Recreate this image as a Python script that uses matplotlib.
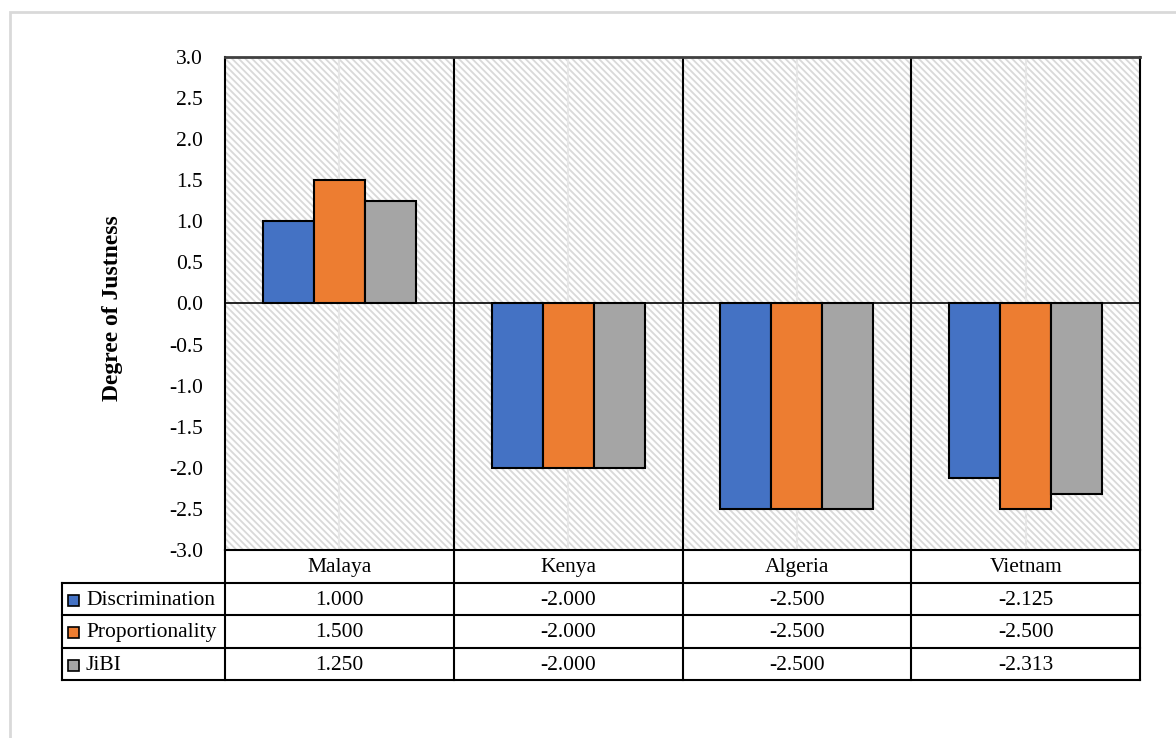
import numpy as np
import matplotlib
matplotlib.use('Agg')
import matplotlib.pyplot as plt
from matplotlib.patches import Rectangle
from matplotlib.transforms import blended_transform_factory

# data
countries = ['Malaya', 'Kenya', 'Algeria', 'Vietnam']
series_names = ['Discrimination', 'Proportionality', 'JiBI']
discrimination = [1.000, -2.000, -2.500, -2.125]
proportionality = [1.500, -2.000, -2.500, -2.500]
jibi = [1.250, -2.000, -2.500, -2.313]
series_values = [discrimination, proportionality, jibi]
colors = ['#4472C4', '#ED7D31', '#A5A5A5']
y_ticks = np.arange(-3.0, 3.01, 0.5)

plt.rcParams['font.family'] = ['Liberation Serif', 'DejaVu Serif']
plt.rcParams['hatch.color'] = '#d9d9d9'
plt.rcParams['hatch.linewidth'] = 1.3

W, H = 1176, 738
fig = plt.figure(figsize=(W / 100, H / 100), dpi=100)

# light outer frame of the chart area
fig.patches.append(Rectangle((10 / W, 1 - 760 / H), 1200 / W, 748 / H,
                             transform=fig.transFigure, fill=False,
                             edgecolor='#d9d9d9', linewidth=2))

ax = fig.add_axes([225 / W, 1 - 550 / H, 915 / W, 493 / H])
ax.set_xlim(-0.5, len(countries) - 0.5)
ax.set_ylim(-3, 3)
ax.patch.set_alpha(0)

# hatched plot area
ax.add_patch(Rectangle((0, 0), 1, 1, transform=ax.transAxes, facecolor='white',
                       edgecolor='#d9d9d9', linewidth=0, hatch='\\' * 5, zorder=0))

x = np.arange(len(countries))
bar_w = 0.223
for i, (vals, col) in enumerate(zip(series_values, colors)):
    ax.bar(x + (i - 1) * bar_w, vals, width=bar_w, color=col,
           edgecolor='black', linewidth=1.5, zorder=3)

# light gridlines at category centres, black boundaries between categories
for xc in x:
    ax.axvline(xc, color='#e6e6e6', linewidth=1.5, zorder=1)
for xb in x[:-1] + 0.5:
    ax.axvline(xb, color='black', linewidth=1.5, zorder=2)
ax.axhline(0, color='black', linewidth=1.2, zorder=4)

for s in ax.spines.values():
    s.set_color('black')
    s.set_linewidth(1.5)
ax.spines['top'].set_color('#404040')
ax.spines['top'].set_linewidth(2)

ax.set_yticks(y_ticks)
ax.set_yticklabels([f'{v:.1f}' for v in y_ticks], fontsize=15.5)
ax.tick_params(axis='y', length=0, pad=16)
for lbl in ax.get_yticklabels():
    lbl.set_y(lbl.get_position()[1])
ax.set_xticks([])
ax.set_ylabel('Degree of Justness', fontsize=17, fontweight='bold')
ax.yaxis.set_label_coords(-0.1115, 0.49)

# data table below the plot
tr = blended_transform_factory(ax.transData, ax.transAxes)
rh = 32.5 / 493
cat_px = 915 / len(countries)
x_left = -0.5 - 163 / cat_px
x_right = len(countries) - 0.5
n_rows = len(series_names) + 1

def hline(y, x0):
    ax.plot([x0, x_right], [y, y], color='black', lw=1.5, transform=tr,
            clip_on=False, solid_capstyle='projecting')

def vline(xv, y0, y1):
    ax.plot([xv, xv], [y0, y1], color='black', lw=1.5, transform=tr,
            clip_on=False, solid_capstyle='projecting')

hline(-rh, x_left)
for k in range(2, n_rows + 1):
    hline(-k * rh, x_left)
for xb in np.arange(-0.5, len(countries), 1.0):
    vline(xb, 0, -n_rows * rh)
vline(x_left, -rh, -n_rows * rh)

for xc, name in zip(x, countries):
    ax.text(xc, -0.55 * rh, name, transform=tr, ha='center', va='center',
            fontsize=15.5)

key_x = -0.5 + (68 - 225) / cat_px
key_w = 11 / cat_px
key_h = 11 / 493
for i, (name, vals, col) in enumerate(zip(series_names, series_values, colors)):
    yc = -(i + 1.55) * rh
    ax.add_patch(Rectangle((key_x, yc - key_h / 2), key_w, key_h, transform=tr,
                           facecolor=col, edgecolor='black', linewidth=1.2,
                           clip_on=False))
    ax.text(-0.5 + (86 - 225) / cat_px, yc, name, transform=tr, ha='left',
            va='center', fontsize=15.5)
    for xc, v in zip(x, vals):
        ax.text(xc, yc, f'{v:.3f}', transform=tr, ha='center', va='center',
                fontsize=15.5)

fig.savefig('out.png', dpi=100)
